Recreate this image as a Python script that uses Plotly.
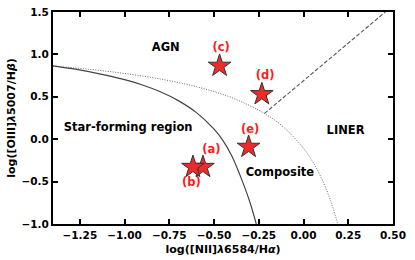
import plotly.graph_objects as go

# Demarcation curves
kew_x = [-1.4, -1.2, -1.0, -0.8, -0.6, -0.4, -0.2, -0.1, 0.0, 0.05, 0.1, 0.15, 0.19]
kew_y = [0.864, 0.825, 0.775, 0.710, 0.620, 0.489, 0.280, 0.120, -0.108, -0.262, -0.459, -0.716, -0.989]

kau_x = [-1.4, -1.2, -1.0, -0.9, -0.8, -0.7, -0.6, -0.5, -0.45, -0.4, -0.35, -0.3, -0.264]
kau_y = [0.864, 0.797, 0.702, 0.639, 0.559, 0.455, 0.316, 0.118, -0.016, -0.20, -0.45, -0.74, -1.0]

liner_x = [-0.218, 0.457]
liner_y = [0.304, 1.5]

# Objects
obj_names = ["(a)", "(b)", "(c)", "(d)", "(e)"]
obj_x = [-0.562, -0.618, -0.469, -0.233, -0.307]
obj_y = [-0.328, -0.328, 0.865, 0.53, -0.091]
lab_x = [-0.515, -0.627, -0.46, -0.214, -0.298]
lab_y = [-0.13, -0.52, 1.075, 0.738, 0.107]

regions = ["AGN", "Star-forming region", "Composite", "LINER"]
reg_x = [-0.77, -0.98, -0.132, 0.235]
reg_y = [1.078, 0.13, -0.40, 0.095]

xticks = [-1.25, -1.0, -0.75, -0.5, -0.25, 0.0, 0.25, 0.5]
yticks = [-1.0, -0.5, 0.0, 0.5, 1.0, 1.5]

FONT = "DejaVu Sans"

fig = go.Figure()
fig.add_trace(go.Scatter(x=kew_x, y=kew_y, mode="lines", line_shape="spline",
                         line=dict(color="#666666", width=1, dash="1px,1.5px"), showlegend=False))
fig.add_trace(go.Scatter(x=kau_x, y=kau_y, mode="lines", line_shape="spline",
                         line=dict(color="#444444", width=1.2), showlegend=False))
fig.add_trace(go.Scatter(x=liner_x, y=liner_y, mode="lines",
                         line=dict(color="#555555", width=1.1, dash="4px,2px"), showlegend=False))
fig.add_trace(go.Scatter(x=obj_x, y=obj_y, mode="markers",
                         marker=dict(symbol="star", size=17, color="#ee2a2a",
                                     line=dict(color="#333333", width=1)),
                         showlegend=False))
fig.add_trace(go.Scatter(x=lab_x, y=lab_y, mode="text", text=obj_names,
                         textfont=dict(family=FONT, size=11.5, color="#ff1a1a", weight="bold"),
                         showlegend=False))
fig.add_trace(go.Scatter(x=reg_x, y=reg_y, mode="text", text=regions,
                         textfont=dict(family=FONT, size=11.5, color="black", weight="bold"),
                         showlegend=False))

axis_common = dict(showgrid=False, zeroline=False, showline=True, linecolor="black",
                   linewidth=2, mirror="ticks", ticks="inside", ticklen=5, tickwidth=1.5,
                   tickcolor="black", automargin=False,
                   tickfont=dict(family=FONT, size=10.5, color="black", weight="bold"))

fig.update_xaxes(range=[-1.4, 0.5], tickvals=xticks, tickformat=".2f",
                 title=dict(text="log([NII]<i>λ</i>6584/H<i>α</i>)", standoff=6,
                            font=dict(family=FONT, size=11, color="black", weight="bold")),
                 **axis_common)
fig.update_yaxes(range=[-1.0, 1.5], tickvals=yticks, tickformat=".1f",
                 title=dict(text="log([OIII]<i>λ</i>5007/H<i>β</i>)", standoff=4,
                            font=dict(family=FONT, size=11, color="black", weight="bold")),
                 **axis_common)

fig.update_layout(width=415, height=260, margin=dict(l=53, r=22, t=12, b=36, autoexpand=False),
                  plot_bgcolor="white", paper_bgcolor="white")

fig.write_html("out.html", config={"displayModeBar": False},
               post_script="document.body.style.margin='0';document.body.style.padding='0';")
